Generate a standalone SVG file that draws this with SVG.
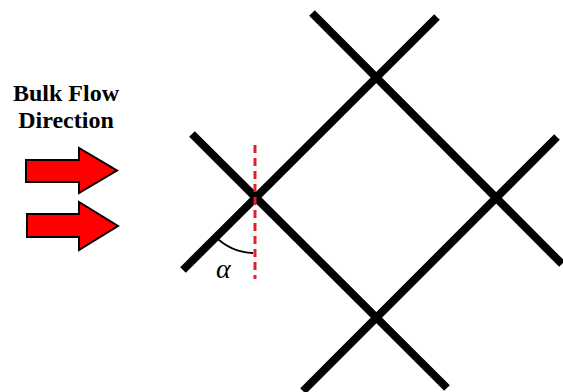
<svg xmlns="http://www.w3.org/2000/svg" width="563" height="392" viewBox="0 0 563 392">
<style>
.bar{stroke:#000;stroke-width:8;stroke-linecap:butt;fill:none}
.arrow{fill:#ff0000;stroke:#000;stroke-width:2;stroke-linejoin:miter}
.title{font-family:'Liberation Serif','Times New Roman','DejaVu Serif',serif;font-weight:bold;font-size:24px;fill:#000;text-anchor:middle}
.greek{font-family:'Liberation Serif','Times New Roman','DejaVu Serif',serif;font-style:italic;font-size:28px;fill:#000}
</style>
<rect width="563" height="392" fill="#fff"/>
<g id="label">
<text class="title" x="66" y="101">Bulk Flow</text>
<text class="title" x="66" y="128">Direction</text>
</g>
<g id="arrow1"><path class="arrow" d="M26 160 H79 V148 L117 170.5 L79 193 V182 H26 Z"/></g>
<g id="arrow2"><path class="arrow" d="M27 214 H79 V202 L118 226 L79 250 V237 H27 Z"/></g>
<g id="lattice">
<line class="bar" x1="312" y1="13" x2="562" y2="264"/>
<line class="bar" x1="192" y1="134" x2="447" y2="388"/>
<line class="bar" x1="183" y1="270" x2="437" y2="17"/>
<line class="bar" x1="303" y1="391" x2="557" y2="137"/>
</g>
<g id="angle">
<line x1="255" y1="145" x2="255" y2="279" stroke="#e0202a" stroke-width="3" stroke-dasharray="8,5"/>
<path d="M215.4 236.6 A56 56 0 0 0 253 253" stroke="#000" stroke-width="2" fill="none"/>
<text class="greek" x="216" y="278">α</text>
</g>
</svg>
